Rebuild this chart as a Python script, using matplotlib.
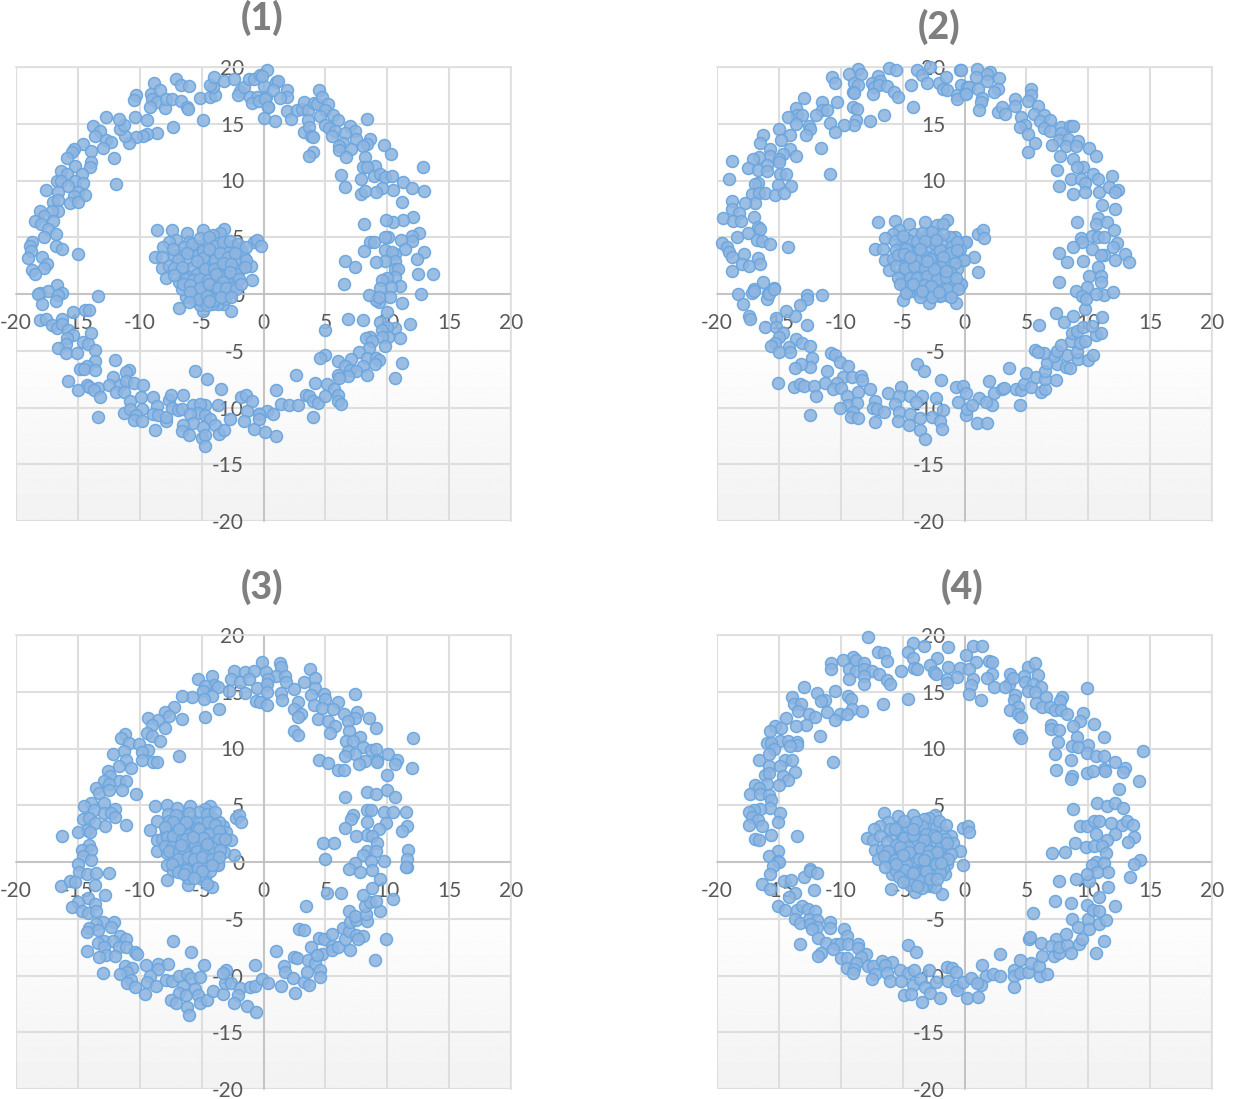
import numpy as np
import matplotlib
matplotlib.use("Agg")
import matplotlib.pyplot as plt

panel_titles = ["(1)", "(2)", "(3)", "(4)"]
tick_values = [-20, -15, -10, -5, 0, 5, 10, 15, 20]

p1_ring = [(-8.84,18.56),(-7.09,18.9),(-6.7,18.4),(-6.06,18.3),(-10.3,17.5),(-10.5,17.1),(-9.1,17.6),(-8.4,18),(-9,17.2),(-8.6,16.9),(-9.2,16.5),(-8,16.4),(-7.9,17.2),(-7.4,17.2),(-6.7,17),(-6.2,16.5),(-6.1,16.3),(-5.1,17.3),(-4.3,17.4),(-3.9,17.5),(-4.1,18.2),(-4.3,18.4),(-4,19.1),(-3.2,18.8),(-4.9,15.3),(-7.3,14.7),(-8.6,14.2),(-9.4,14.1),(-9.7,13.9),(-10.3,13.8),(-10.9,13.3),(-11.2,13.9),(-11.6,14.5),(-11.3,14.9),(-11.7,15.4),(-10.4,15.6),(-9.4,15.3),(-12.7,15.6),(-13.8,14.8),(-13.2,14.4),(-13.6,13.9),(-12.7,13.6),(-12.3,13.4),(-13,12.9),(-12.1,12),(-11.9,9.7),(-14.6,13.2),(-13.9,12.6),(-15.3,12.8),(-15.5,12.5),(-15.9,12),(-13.9,11.6),(-14,11.2),(-15.2,11.3),(-14.7,10.6),(-16.4,10.8),(-15.9,10.6),(-16.7,10),(-16.4,10),(-15.2,10),(-14.6,9.8),(-15.8,9.5),(-17.6,9.2),(-16.6,9),(-15,9),(-14.4,8.7),(-15.3,8.6),(-17,8.1),(-16.6,8.3),(-15.6,8),(-15,8.1),(-16.6,7.3),(-17.1,7.3),(-18.1,7.3),(-17.7,6.9),(-18.5,6.4),(-18,6.2),(-17,6.4),(-17.4,5.7),(-16.8,5.3),(-17.7,5),(-18.7,4.6),(-18.9,4.2),(-18.8,3.8),(-16.8,4.2),(-16.3,4),(-15,3.5),(-19,3.2),(-17.9,3.3),(-17.5,2.6),(-17.7,2.3),(-18.7,2.1),(-18.5,1.8),(-16.7,.8),(-16.3,.1),(-18.1,.1),(-17.4,.3),(-16.6,-.1),(-13.4,-.2),
(-2.4,18.9),(-1.9,17.9),(-2.1,17.5),(-1.6,18.2),(-1.2,18.9),(-.8,18.9),(-1.1,17.4),(-.5,17.4),(-.9,16.8),(-.3,19.3),(0,18.3),(.2,17.4),(-.4,17),(.4,16.5),(.3,19.7),(-.1,19.2),(1,18.7),(1.2,18.8),(1.9,18),(.8,18),(1.9,17.4),(1.3,17.3),(.1,17.2),(.4,16.5),(0,15.5),(.9,15.2),(1.9,16.1),(2.2,15.4),(2.7,16.2),(3.1,16.3),(3.3,16.9),(3.6,16.2),(4.1,16.8),(4.3,16.7),(4.5,18),(4.7,17.4),(5.2,16.7),(5,16.2),(4.6,15.7),(5.6,15.8),(6,15.3),(3.6,15.3),(3.3,14.3),(3.7,14.7),(3.8,13.9),(4,13.8),(5,14.9),(5.3,14.6),(5.8,14.4),(5.5,13.9),(7,14.8),(7.4,14.4),(6.6,14.2),(7.5,13.7),(8.4,15.4),(8.6,13.7),(8.4,13.2),(8,13),(6.4,13.3),(6.1,13),(6.1,12.7),(7.1,12.8),(6.7,12.1),(3.96,12.5),(3.7,12.2),(9.7,13.1),(10.3,12.3),(12.9,11.2),(8.2,12.1),(9,11.3),(8,11.2),(8.4,11.2),(6.3,10.5),(6.6,9.4),(8.9,10.4),(9.4,10.6),(9.8,10.3),(10.4,10.4),(7.9,10.1),(11.3,9.9),(12,9.3),(13,9.1),(10.5,9.2),(9.6,9.3),(9.1,9),(7.9,8.8),(8.2,9.1),(11.2,8.1),(12.1,6.8),(11.3,6.5),(10.5,6.3),(9.9,6.5),(8.1,6.2),(12.6,5.4),(12,5.1),(12,4.7),(11.1,4.8),(10.1,5),(9.8,5),(8.6,4.6),(8.9,4.6),(11.4,4),(9.8,3.9),(8.1,3.8),(13,3.7),(12.4,3.1),(10.6,3.5),(10.4,3.7),(10.6,2.9),(9.8,2.9),(9.1,2.8),(6.6,2.9),(7.4,2.4),(10.6,2.2),(10.9,2.2),(12.5,1.8),(13.7,1.8),(10.6,1.5),(10,1.4),(9.6,1.2),(6.5,.9),(11,.7),(10.3,.6),(9.4,.5),
(12.7,0),(11.2,-.8),(10.2,-.3),(9.3,-.7),(9.1,-.5),(8.5,-.1),(9.3,-.3),(10,-1.6),(11.8,-2.6),(9.4,-2.5),(8,-2.3),(6.8,-2.2),(10.6,-3),(10,-2.9),(9.6,-3.2),(5,-3.2),(11,-3.9),(10.1,-3.8),(9.6,-3.8),(8.6,-3.8),(8.3,-3.9),(8.8,-4.1),(9.8,-4.6),(8.5,-4.8),(7.7,-5.1),(5,-5.4),(4.6,-5.6),(7.1,-5.7),(6,-5.9),(8.4,-5.6),(9.1,-5.6),(9.3,-5.8),(9,-6.2),(8,-6.3),(6.6,-6.3),(7,-6.7),(7.5,-6.8),(11.2,-6.1),(10.6,-7.4),(8.4,-7.1),(6.8,-7.2),(6,-7.1),(6.1,-7.4),(2.6,-7.1),(4.2,-7.8),(5.1,-7.9),(5.7,-8.4),(1.05,-8.5),(3.4,-8.9),(3.7,-9),(4,-9.4),(4.4,-9.6),(5,-9),(6,-8.9),(6,-9.4),(6.3,-9.7),(1.4,-9.7),(2.1,-9.8),(2.8,-9.8),(4,-10.8),(.3,-10.3),(.8,-10.6),(.1,-12.2),(1,-12.5),(-.35,-10.6),
(-18.2,0),(-17.9,-.9),(-16.8,-.6),(-15.4,-1.6),(-14.4,-1.4),(-14.1,-1.4),(-18.1,-2.3),(-17.6,-2.2),(-16.3,-2.2),(-17.1,-2.7),(-16.7,-3),(-16.3,-2.6),(-15.8,-3.2),(-15.4,-3.6),(-15.9,-3.9),(-13.9,-3.4),(-16,-4.4),(-14.6,-4.2),(-14.2,-4.4),(-16.6,-4.8),(-16,-5.2),(-15.1,-5.2),(-13.6,-4.9),(-12,-5.8),(-13.6,-5.9),(-14.3,-6.3),(-14.8,-6.6),(-14.5,-6.6),(-13.6,-6.7),(-10.9,-6.7),(-11.1,-6.9),(-15.8,-7.7),(-14.3,-8),(-14.1,-8.2),(-15,-8.5),(-13.4,-8.3),(-13.7,-8.5),(-13.2,-9.1),(-12.2,-7.3),(-12.5,-8),(-11.6,-8),(-11.1,-7.7),(-10.5,-7.8),(-9.7,-8),(-11.9,-8.6),(-11.3,-8.6),(-13.4,-10.8),(-10.8,-9.4),(-9.9,-9.1),(-8.9,-9.1),(-11.3,-10.5),(-10.8,-10.1),(-9.8,-10.1),(-10.3,-10.7),(-10.5,-11.1),(-9.8,-11.2),(-8.8,-12),(-8.6,-9.9),(-8.9,-10.6),(-8.5,-10.7),(-7.9,-11.2),(-7.9,-10.8),(-7.6,-9.3),(-7.5,-8.9),(-7.4,-10),(-6.9,-10.2),(-6.5,-8.9),(-6.6,-10.1),(-5.7,-9.8),(-5.5,-6.8),(-4.6,-7.5),(-3.4,-8.4),(-3.7,-9.8),(-4.7,-9.8),(-5.1,-9.7),(-5.3,-10.5),(-5.9,-10.6),(-4.7,-10.7),(-4.3,-11),(-5.7,-11.4),(-4.9,-11.7),(-6.5,-11.5),(-6.6,-12.1),(-6,-12.4),(-5,-12.7),(-4.7,-12.4),(-4.7,-13.4),(-3.9,-11.5),(-3.6,-12.3),(-3.2,-12),(-2.7,-11),(-1.8,-9.1),(-1.4,-8.9),(-.9,-9.4),(-1.3,-10.3),(-1.6,-11.2),(-.8,-11.9),(-.4,-10.6),(-.4,-11)]
p1_cluster = [(-8.6,5.6),(-7.4,5.6),(-6.2,5.4),(-4.9,5.6),(-3.2,5.7),(-3.5,5.4),(-4.1,5.2),(-7.1,4.8),(-7.6,4.6),(-6,4.6),(-8.1,4.1),(-8.8,3.3),(-8.2,3.3),(-8.2,2.3),(-7.6,2.5),(-7.9,1.4),(-6.8,1.1),(-7.2,3.4),(-6.7,3.6),(-.75,4.6),(-.5,4.8),(-.2,4.2),(-1,2.5),(-.9,1.2),(-1.8,3.9),(-1.6,3.3),(-1.9,2.2),(-2.5,1.4),(-2.5,4.2),(-6.8,-1.2),(-4.85,-1.5),(-2.6,-1.5),(-3.3,-.85),(-3.7,-.85),(-6.3,-.3),(-5.2,-.1),(-4.4,.4),(-3.25,.2),(-5.3,4.2),(-4.6,4.6),(-3.7,4.5),(-3,3.9),(-5.7,3.7),(-5.3,3.4),(-4.6,3.3),(-4.1,3.7),(-3.4,3.1),(-2.7,3.2),(-2.1,2.7),(-6.2,2.9),(-5.7,2.4),(-5,2.6),(-4.3,2.5),(-3.7,2.2),(-3,2.4),(-2.4,2.2),(-6.5,1.9),(-6,1.5),(-5.4,1.8),(-4.8,1.6),(-4.2,1.7),(-3.6,1.4),(-3,1.6),(-5.4,.9),(-4.7,.8),(-4,1),(-3.4,.7),(-2.8,.9),(-6.1,.6),(-5.5,.3),(-4.9,.2),(-4.2,-.2),(-3.6,.1),(-2.9,.1),(-2.4,.6),(-5.5,-.5),(-4.8,-.7),(-4.2,-.9),(-5.1,-1),(-4.4,2),(-3.9,3),(-4.9,3.8),(-2.2,1.8),(-6.6,.4),(-5.8,-.2),(-3.1,-.4)]
p1_cluster_dense = [(-6.4,4.1),(-5.8,4.4),(-5.1,4.9),(-4.4,5),(-3.9,4.2),(-3.3,4.6),(-2.7,4.7),(-2.1,4.4),(-1.4,4.1),(-7.3,4),(-6.9,3),(-6.2,3.6),(-4.9,3.2),(-4.4,4),(-3.5,3.6),(-2.9,3.3),(-2.3,3.6),(-1.4,3),(-7.2,2.3),(-6.6,2.4),(-5.4,2.9),(-4.7,2.2),(-4,2.2),(-3.3,2.7),(-2.6,2.6),(-1.5,2.4),(-7.2,1.7),(-6.3,1.3),(-5.7,1.2),(-5.1,1.3),(-4.5,1.2),(-3.8,1.8),(-3.3,1.1),(-2.7,1.9),(-2,1.3),(-6.5,.9),(-5.9,.8),(-5.1,.5),(-4.4,.9),(-3.7,.5),(-3,.5),(-2.2,.4),(-1.8,.9),(-5.9,.2),(-5.2,-.4),(-4.6,-.2),(-4,-.5),(-3.4,-.3),(-2.6,-.3),(-4.6,-1),(-4.4,-.6),(-6,-.7)]

p2_ring = [(-8.6,19.8),(-9.3,19.4),(-8.4,19.4),(-10.7,19.1),(-10.5,18.6),(-8.9,18.6),(-8.6,18.4),(-9,17.8),(-8.9,17.7),(-6.1,19.9),(-5.5,19.7),(-7,19.2),(-7.5,18.6),(-6.8,18.8),(-7.3,18.2),(-6.9,18.4),(-6.3,18.3),(-7.4,17.6),(-5.7,17.8),(-5.4,17.4),(-4.3,18.4),(-3.8,19.7),(-3.4,19.3),(-3,18.6),(-2.8,20),(-2.1,18.6),(-1.5,19.1),(-1.7,18.1),(-1.4,18),(-.4,19.7),(-.3,18.4),(.2,18.2),(-.6,17.5),(0,17.7),(-.6,17.2),(-4.2,16.5),(-10.3,16.9),(-13,17.3),(-11.5,16.9),(-11.5,16.2),(-11.1,16.2),(-12,15.8),(-9,16.5),(-8.7,16.3),(-6.5,15.8),(-7.6,15.2),(-8.8,15.3),(-8.9,14.9),(-9.7,14.9),(-10.9,15.1),(-10.5,14.3),(-13.6,16.4),(-13.5,15.8),(-13.1,15.8),(-14.3,15.6),(-13.6,15),(-12.6,14.8),(-12.5,14.5),(-12.8,14),(-15,14.5),(-14.1,14),(-14.8,13.6),(-16.3,14),(-16.5,13.3),(-15.7,12.8),(-14.1,12.8),(-11.6,12.9),(-15.7,12.2),(-14.7,12.3),(-13.6,12.2),(-16.6,12.1),(-17.1,11.9),(-15,11.9),(-18.8,11.7),(-15,11.6),(-16,11.4),(-17.5,11.1),(-16.7,10.9),(-16,10.8),(-14.9,10.6),(-14.4,10.6),(-10.9,10.6),(-19,10.1),(-16.7,9.8),(-16.9,9.7),(-15.1,9.6),(-14,9.5),(-17.2,8.8),(-16.6,8.9),(-16.1,8.9),(-15.3,8.7),(-14.6,8.9),(-16.9,8),(-17.7,8),(-18.8,8.2),(-18.8,7.5),(-18.2,7.1),(-19.5,6.7),(-18.7,6.4),(-18.1,6.4),(-17,6.8),(-16.7,5.9),(-16.5,5.7),(-17.5,5.4),(-18.4,5),(-16.8,4.8),(-16.4,4.7),(-15.7,4.4),(-14.3,4.1),(-19.6,4.5),(-19.2,4.1),(-19,3.7),(-18.8,3.3),(-17.8,3.5),(-16.7,3.2),(-18,2.6),(-17.4,2.5),(-16.5,2.6),(-18.8,2),(-16.3,1.1),(-15.4,.5),(-17,.4),(-17.2,.06),(-15.9,.06),(-12.7,-.1),
(1,19.8),(-.3,19.7),(2.1,19.6),(1.8,19.4),(2.8,19),(.9,19.1),(1.8,18.8),(.35,18.2),(1.1,18.1),(2.7,18.1),(2.4,17.8),(.1,17.6),(1.4,17.3),(1.3,16.9),(1.2,16.2),(2.7,16),(3,16.5),(3.3,15.9),(4.1,17.2),(4.1,16.6),(5.4,18.1),(5.4,17.5),(5.1,17),(5.9,16.6),(4.6,15.6),(5.6,15.9),(6.4,15.8),(4.9,14.9),(4.5,14.7),(5.1,14.1),(5.7,13.3),(5.1,12.5),(6.1,15.2),(6.9,15.3),(6.4,14.6),(6.9,14.4),(7.8,14.7),(8.5,14.8),(8.8,14.8),(7.8,14.2),(7.6,13.6),(8.4,13.7),(9.2,13.5),(7.1,13.1),(8.2,13),(9,13),(10.1,12.9),(10.6,12.2),(7.7,12.2),(8.8,11.9),(9.6,11.2),(9.1,11.2),(7.5,10.9),(10.4,10.6),(11.9,10.4),(8.6,10.1),(9.4,10.1),(10.8,10.1),(9.7,9.8),(7.6,9.5),(8.8,8.8),(9.7,9),(10.9,9),(11.7,9.4),(12.4,9.2),(12.2,9),(11.1,7.8),(12.2,7.5),(10.8,6.7),(10.6,6.2),(9.1,6.3),(11.5,6.3),(12.1,5.6),(10.3,5.1),(10.8,5),(11.3,5),(9.4,4.9),(9.5,4.6),(8.8,4.1),(12.3,4.5),(12,4.1),(10.3,4),(7.6,3.6),(11.3,3.4),(11,3.4),(13,3.5),(12.2,3),(13.3,2.8),(8.3,2.8),(9.6,2.9),(10.8,2.4),(10.1,1.6),(11,1.6),(11,1.1),(7.6,1.1),(9.9,.6),(9,.3),
(-18.3,0),(-17.9,-.9),(-17,.3),(-16,-.4),(-15.8,0),(-15.4,.4),(-11.5,-.06),(-12.7,-.4),(-13.3,-1),(-13.7,-1.9),(-14.4,-1.5),(-17.4,-1.9),(-17.3,-2.2),(-16.1,-2.9),(-15.2,-2.1),(-15.2,-2.9),(-12.7,-2.7),(-14.7,-3.4),(-15,-3.8),(-13.6,-4),(-13.1,-4.3),(-12.5,-4.6),(-14.2,-4.7),(-14.1,-5.1),(-15.3,-4.3),(-15.6,-4.6),(-15,-5.1),(-10.8,-5.2),(-10.5,-5.4),(-12.3,-5.6),(-10.1,-6),(-9.4,-6.3),(-12.5,-6.4),(-13.2,-6.2),(-13.7,-6.5),(-11.1,-6.8),(-11.3,-7.8),(-9.8,-7.3),(-9.1,-7.3),(-8.4,-7.2),(-8.3,-7.6),(-10.3,-7.8),(-15.1,-7.8),(-13.8,-8.2),(-13.3,-7.9),(-13,-8.1),(-12.2,-8.1),(-12,-9),(-10.6,-8.4),(-10,-8.3),(-8.6,-8.6),(-7.6,-8.4),(-9.5,-9),(-7.2,-9.4),(-6.2,-8.7),(-5.1,-8.2),(-5.3,-9),(-4.4,-9),(-3.4,-9),(-2.3,-9.2),(-1.9,-7.6),(-3.8,-6.2),(-3.3,-6.8),(-.7,-8.2),(-.1,-8.1),(.1,-8.7),(-5.6,-9.7),(-3.9,-9.5),(-.5,-9.5),(-9.4,-9.8),(-8.7,-9.6),(-10.1,-10),(-9,-10.4),(-9.2,-10.8),(-8.6,-10.9),(-12.5,-10.7),(-7.2,-11.3),(-7.4,-10),(-7.1,-10.1),(-6.5,-10.4),(-5.3,-10.4),(-4.4,-10.6),(-3.6,-10.9),(-2.6,-10.8),(-1.7,-10.2),(-2,-11.2),(-1.8,-11.9),(-5.4,-11.2),(-4.5,-11.5),(-3.6,-12),(-3.2,-12.8),(.1,-10.7),(.2,-10.1),
(2,-7.7),(3.6,-6.5),(2.4,-8.7),(3,-8.4),(3.2,-8.3),(1.2,-9.2),(.6,-9.8),(2.2,-9.8),(1.7,-9.5),(1,-11.4),(1.8,-11.4),(4.5,-9.8),(4.2,-8.4),(4.6,-8.5),(4.8,-7.9),(5,-7),(5.4,-8.2),(5.8,-7.3),(6.2,-8.6),(6.5,-8.4),(6.5,-7.5),(6.5,-6.8),(6.7,-6.1),(7.4,-7.6),(7.5,-6.2),(8.2,-6.4),(8.5,-6.5),(9.2,-5.7),(10,-5.8),(10.4,-5.4),(8.3,-5.4),(9.1,-5.1),(7.2,-5.5),(6.4,-5.2),(5.7,-4.9),(5.9,-5.1),(7.5,-5),(7.8,-4.5),(8.6,-4.1),(9.3,-4.3),(9.7,-4.1),(8.7,-3.4),(9.1,-3.3),(10.6,-3.6),(11,-3.4),(9.6,-2.9),(10.3,-2.8),(6,-2.7),(7.4,-1.7),(8,-2.5),(8.8,-1.9),(9.7,-1.3),(11.1,-2),(11.3,-.1),(12,.2),(9.5,-.15),(9.8,-.4),(10.6,0)]
p2_cluster = [(-7,6.3),(-5.6,6.4),(-4.5,6.2),(-3.2,6.3),(-2.2,6.1),(-1.4,6.5),(-1.7,6.2),(-5.3,5.6),(-5.8,5.3),(-6.4,4.9),(-4.1,5.3),(-7.2,4),(-6.6,4),(-5.1,4.3),(-4.9,4.3),(-3.5,4.3),(-2.9,4),(-1.5,3.9),(-.8,5),(0,4.6),(-6.4,3),(-5.8,3.1),(-4.1,3.8),(-6.1,2.1),(-5.1,1.8),(-4.4,2.6),(-3.4,2.7),(-2.6,2.7),(-2,3.1),(-.5,3.4),(-.1,3),(-.6,2.2),(-1.4,2.3),(-3.6,1.7),(-2.6,1.8),(-2.6,1.2),(-4.9,.8),(-3.6,.8),(-1.4,.9),(-.4,.9),(1.1,5.3),(1.5,5.6),(1.6,4.9),(.1,4.6),(.8,3.3),(1.1,1.9),(-.05,3),(-.3,.9),(-5,-.5),(-2.9,-.8),(-.7,-.8),(-4.4,.3),(-3,0),(-1.5,-.1),(-3,5.2),(-2.2,5),(-1.2,5),(-4.6,4.8),(-3.8,4.7),(-2.4,4.4),(-1.9,4.5),(-1,4.2),(-.4,4),(-4.4,3.7),(-3.7,3.5),(-3.1,3.3),(-2.3,3.5),(-1.1,3),(-5.1,3),(-4.6,3.1),(-1.6,2.8),(-2.9,2.2),(-2.2,2.1),(-3.9,2.1),(-4.5,1.9),(-1.9,1.5),(-1,1.6),(-3.2,1.2),(-4.1,1.2),(-1.9,.7),(-3,.5),(-4.1,.3),(-2.4,.3),(-1,.2),(-3.6,.1),(-2,-.2)]
p2_cluster_dense = [(-5.6,4.7),(-5,5.1),(-3.4,5.4),(-2.6,5.5),(-1.7,5.3),(-.6,4.6),(-5.5,3.9),(-4.7,4),(-3.2,4.7),(-2,3.9),(-1.2,3.6),(-.6,3.9),(-5.4,3.4),(-4.9,3.5),(-3.9,3),(-2.8,3.1),(-1.7,3.3),(-.8,2.7),(-5.5,2.5),(-4.8,2.3),(-4.1,2.5),(-3.2,2.3),(-1.9,2.4),(-1.2,1.9),(-5.4,1.4),(-4.4,1.4),(-3.8,1.4),(-3,1.6),(-2.2,1.3),(-1.5,1.5),(-.7,1.4),(-5.2,.9),(-4.3,.8),(-3.3,.8),(-2.7,.7),(-1.4,.4),(-.5,.4),(-4.7,.1),(-3.6,-.3),(-2.6,-.3),(-2.1,.2),(-1.1,-.3),(-2.3,4.8),(-3.6,4),(-2.5,2.2),(-4.2,.9),(-3,2.9),(-1.5,2),(-4.4,3.3),(-3.4,.3)]

p3_ring = [(-.1,17.6),(1.3,17.5),(1.45,17.2),(3.75,17),(-2.4,16.8),(-1.5,16.7),(-.75,16.8),(-4.2,16.4),(-5.3,16.1),(.2,16.7),(1,16.4),(1.75,16.4),(-2.6,16.1),(-1.9,15.9),(-1.2,16.1),(.4,16.1),(1.8,15.9),(3.3,15.9),(4.2,16.2),(-4,15.6),(-3.7,15.4),(-4.7,15.5),(-2.8,15.1),(-.5,15.3),(.3,15.7),(.3,15),(-1.5,14.9),(2.5,15.2),(1.4,14.9),(4.2,15.3),(7.4,14.8),(-4.85,15.1),(-4.2,14.6),(-4.8,14.4),(-5.8,14.5),(-6.55,14.6),(-.6,14.2),(-.3,14.1),(.25,13.8),(1.5,14.3),(2.75,14.1),(2.5,13.5),(3.8,14.7),(4.1,13.8),(4.9,14.8),(5,14.4),(4.7,13.6),(6,14.1),(5.6,13.5),(6.5,13),(7.55,13.2),(7.4,12.7),(8.55,12.7),(6.8,12.4),(-3.6,13.5),(-4.7,12.8),(-7.2,13.7),(-8,13.2),(-7.6,12.9),(-6.55,12.6),(-9.3,12.7),(-8.5,12.5),(-9,12.1),(-8,11.8),(3,13),(2.75,12.8),(4.4,12.6),(5.2,12.4),(5.8,12),(5.4,11.4),(2.5,11.5),(2.8,11.2),(9.1,11.8),(6.9,11.5),(7.8,11),(6.7,10.7),(7.2,10.7),(12.1,10.9),(-9.4,11.4),(-9,11.1),(-8.4,10.7),(-11.2,11.3),(-11.5,10.9),(-10.9,10.5),(-10.1,10.4),(-9.3,9.9),(-9.8,9.7),(8,10.1),(8.7,9.9),(9.1,10),(6.8,9.8),(-11.3,9.8),(-12.2,9.5),(7.4,9.5),(6.6,9.3),(10.1,9.5),(9.2,9),(10.8,9),(8.2,8.9),(-6.8,9.3),(-9.8,9),(-8.9,8.8),(-8.6,8.8),(-11.1,9),(4.5,9),(5.2,8.7),(9.2,8.8),(7.7,8.6),(10.6,8.6),(12,8.3),(-10.7,8.3),(-11.7,8.5),(-12.6,8),(6,8.1),(6.5,8.1),(10,7.7),(-12.4,7.6),(-12.9,7.1),(-11.7,7.1),(-11.1,7.1),(-12.5,6.9),(-13.5,6.5),(-13.3,6.1),(-12.5,6.3),(-11.4,6.3),(-10.3,6),(10,6.3),(8.4,6.2),(9.1,6),(6.6,5.7),(10.6,5.7),(-13.9,5.2),(-12.9,5.2),(-14.5,4.9),(-12,4.7),(-13.7,4.6),(-12.9,4.3),(-12.3,4.3),(-12,4),(-14.6,3.8),(-14.1,3.9),(-13.6,3.4),(-12.8,3.2),(-11.1,3.3),(-14.3,2.8),(-14,2.6),(-15,2.6),(-16.3,2.3),(8.4,4.6),(8.7,4.6),(9.7,4.4),(10.5,4.4),(11.5,4.4),(7.2,4.1),(7.1,3.8),(8.4,3.5),(9.9,3.4),(11.6,3.2),(6.6,3),(9.35,2.9),(11.2,2.7),(8.4,2.4),(8.8,2.3),(7.5,2.3),(9.2,1.7),(4.8,1.7),(5.7,1.7),(11.7,1.1),(8.4,1),(9.1,1),(8,.6),(11.6,.3),(5,.3),(8.7,.1),(9.7,.1),(7.4,-.1),(11.6,-.4),(-14.1,1.5),(-14.7,1.1),(-13.9,1.1),(-14.6,.5),(-13.9,.2),(-15,-.15),
(-14.9,-.9),(-14.3,-1.1),(-13.5,-1),(-12.5,-1),(-16.4,-2.1),(-15.6,-1.7),(-15.2,-1.8),(-13.6,-2),(-12.8,-2.9),(-14.2,-3.2),(-15,-3.5),(-13.6,-3.7),(-15.5,-4),(-14.7,-4.3),(-14.2,-4.5),(-13.5,-4.3),(-12.1,-5.3),(-13,-5.3),(-13.5,-5.5),(-12.3,-5.7),(-14.1,-5.8),(-13.4,-6),(-14.3,-6.2),(-11.6,-6.5),(-11.1,-6.8),(-12.9,-7),(-13.4,-7.1),(-12.2,-7),(-12.9,-7.5),(-11.7,-7.5),(-11.1,-7.5),(-14.3,-7.8),(-10.4,-7.9),(-12.7,-8.2),(-13.3,-8.4),(-12,-8.3),(-10.2,-8.1),(-13,-9.8),(-11.2,-9.2),(-10.6,-9.3),(-9.5,-9.1),(-8.5,-9),(-7.7,-9),(-8.5,-9.4),(-11,-9.7),(-11.6,-9.9),(-9.2,-10),(-10.7,-10.4),(-11,-10.7),(-10.4,-11),(-9.6,-11.6),(-9.45,-10.6),(-8.7,-10.9),(-7.9,-10.4),(-7.4,-10.5),(-6.8,-10),(-6.2,-9.9),(-5.85,-10.2),(-5.1,-10.1),(-4.8,-9.1),(-5.85,-7.9),(-7.3,-7),(-6.5,-10.9),(-6.8,-11.5),(-6.25,-11.7),(-5.5,-11.2),(-5.3,-11.7),(-7.5,-12.2),(-7.1,-12.4),(-5.1,-12.4),(-4.55,-12.2),(-6.2,-12.8),(-6,-13.5),(-4.1,-11.4),(-3.3,-11.6),(-3.1,-10.7),(-2.6,-10.7),(-3,-9.5),(-3.3,-9.8),(-1.9,-11.1),(-1.1,-11),(-.7,-10.9),(-2.1,-11.7),(-2.35,-12.4),(-1.3,-12.7),(-.6,-13.2),(-.7,-9.1),(-.1,-10.3),(.4,-10.7),(1.4,-10.9),(1.05,-7.8),(1.65,-9.2),(1.7,-9.7),(2.4,-10.2),(2.55,-11.5),(2.5,-8.4),(2.7,-8.5),(2.85,-5.9),(3.3,-6),(3.4,-3.9),(3.3,-10.6),(3.7,-10.8),(3.5,-9.7),(3.6,-8.6),(3.85,-7.5),(4.2,-8.9),(4.6,-9.5),(4.6,-10.1),(4.7,-8.1),(4.3,-8.2),(4.5,-6.7),(4.9,-6.8),(5.5,-6.3),(5.5,-7.4),(5.5,-7.75),(6,-7.5),(6.4,-5.8),(6.55,-6.8),(7,-7.75),(6.9,-6.1),(7.5,-6.4),(8,-6.5),(7.6,-6.8),(7,-5.3),(7.5,-5.1),(8.4,-5.2),(9,-8.6),(9.9,-6.8),(6.9,-4.3),(7.4,-4.8),(8.25,-4.6),(9.4,-4.3),(8.2,-3.9),(8.6,-3.5),(9.1,-3.4),(10.5,-3.3),(8,-2.9),(6.3,-2.7),(5.1,-2.7),(8.8,-2.3),(9.4,-1.5),(8.8,-.7),(6.9,-.65),(7.8,-.9),(11.5,-.4)]
p3_cluster = [(-8.8,4.9),(-7.8,5),(-7,4.8),(-5.9,4.9),(-4.3,4.9),(-4.7,4.7),(-7.7,4.2),(-8.6,3.6),(-9.2,2.8),(-7.4,3),(-6.2,2.9),(-4.8,3.6),(-3.3,3.2),(-3,2.6),(-8.6,1.9),(-2.6,1.9),(-8.6,1),(-3.4,1.6),(-6.4,1.4),(-7.8,.8),(-4,.8),(-5.8,0),(-2.4,.6),(-2.2,3.9),(-1.95,4.1),(-1.8,3.5),(-4.8,2.5),(-7,2.5),(-3.85,2.9),(-5.5,2.6),(-8.2,2),(-4.7,1.4),(-7.1,1.1),(-5.7,.8),(-6.5,.4),(-3.7,-.2),(-7.8,-.3),(-7.3,-.8),(-7.8,-1.6),(-6.1,-2),(-6.1,-1.4),(-4.2,-2.2),(-5,-1.5),(-4.7,-1.4),(-4.6,-.35),(-3.7,-.3),(-5.85,-.35),(-6.65,-.5),(-5.2,4.4),(-6.5,4),(-5.7,3.6),(-5.2,3.4),(-6.8,3.5),(-4.2,3.9),(-3.6,3.5),(-7.9,2.6),(-6.5,2.3),(-4.2,2.2),(-3.4,2.4),(-7.5,1.7),(-6.9,1.8),(-5.9,1.9),(-5.1,1.9),(-3.9,1.5),(-6.1,1),(-5,.9),(-4.4,.7),(-3.2,.9),(-7.2,.3),(-6.3,-.1),(-5.2,.2),(-4.5,0),(-7,-.4),(-5.6,-.9),(-4.3,-.8),(-5.4,3),(-4.5,3.1),(-7.6,3.6)]
p3_cluster_dense = [(-7.1,4.1),(-6,4.3),(-4.6,4.2),(-3.9,4.4),(-7.3,3.5),(-6.3,3.5),(-4.5,3.5),(-3.9,3.3),(-8,3.1),(-7.8,2.2),(-7.3,2.3),(-6.8,2.9),(-6,2.4),(-5.2,2.9),(-4.4,2.5),(-3.6,2.7),(-8,1.4),(-7.4,1.3),(-6.6,1.9),(-6.3,2),(-5.5,1.6),(-4.9,2.1),(-4.2,1.7),(-3.6,2),(-3.1,2),(-7.6,1),(-6.8,.9),(-6.4,.9),(-5.4,1),(-4.7,.8),(-4.1,1.2),(-3.5,1.1),(-6.9,.3),(-6.1,.4),(-5.6,.3),(-5,.4),(-4.2,.3),(-3.6,.4),(-7.4,-.2),(-6.9,-.9),(-6.3,-.7),(-5.3,-.5),(-5,-.8),(-4.2,-.3),(-6.4,-1.1),(-5.6,-1.4),(-4.6,-1.9),(-6.7,1.5),(-5.7,2.2),(-4.6,1.6)]

p4_ring = [(-7.8,19.8),(-4.2,19.3),(-3.3,19),(-1.3,18.9),(.7,19),(1.4,19),(-7,18.5),(-6.5,18.4),(-4.6,18.5),(-4.2,18),(-2.2,18),(.1,18.2),(-9,18.1),(-8.8,17.8),(-9.8,17.8),(-6.25,17.7),(-10.8,17.5),(-10.8,17),(-8.1,17.5),(2,17.7),(2.2,17.6),(.9,17.6),(-2.8,17.4),(-1.3,17.2),(-.4,17.1),(.35,17),(5.15,17.2),(5.7,17.5),(-9.3,17),(-8.8,16.8),(-8.1,17),(-7.5,16.8),(-6.9,16.6),(-8.1,16.4),(-5.1,16.8),(-4.1,17.1),(-3.8,17),(-2.5,16.7),(-2.3,16.6),(2.2,16.6),(3.7,16.6),(4.8,16.4),(5.9,16.5),(-9.35,16.1),(-6.25,16),(-6,15.7),(-8.1,15.7),(-1.4,16.1),(-1.4,15.8),(-.6,16.3),(.7,16.1),(1.8,16.2),(3.6,15.7),(2.4,15.4),(3.3,15.4),(3.9,16.2),(4.85,15.9),(5.5,15.7),(6.2,15.4),(-13,15.4),(-10.5,15.1),(9.9,15.3),(.5,15.6),(5.15,15.1),(5.7,15),(4.1,14.7),(.4,14.8),(1.35,14.3),(-4.6,14.4),(-6.6,13.9),(-11.9,14.9),(-13.9,14.5),(-9.4,14.6),(-9.2,14.4),(-11.3,14.3),(-11.6,14.2),(-13.8,13.9),(-13.2,13.9),(4,14.3),(6.6,14.5),(7.9,14.5),(7.7,14.2),(5.8,14),(6.3,13.7),(6.9,13.7),(7.3,13.4),(7.8,13.4),(8.3,13),(4.3,13.7),(3.7,13.4),(-13.45,13.3),(-11.1,13.2),(-9.1,13.5),(-8.3,13.3),(-10.1,13),(-9.5,13),(-12.6,13),(-12.1,12.8),(-14.4,12.7),(-10.5,12.5),(4.3,13),(4.6,12.8),(9.6,13.1),(9.3,12.4),(8.8,12),(10.5,12.2),(-12.8,12.1),(-13.6,12),(-15.3,12),(-14.8,11.8),(7,12.1),(7,11.7),(7.6,11.6),(-15.7,11.5),(-11.7,11.1),(-14.9,10.7),(-14.3,10.7),(4.4,11.2),(4.6,10.9),(9.1,11),(11.3,11),(7.55,10.6),(-13.5,10.6),(-16,10.5),(-15.6,10.5),(-13.5,10.3),(-14.1,10.2),(-15.4,10),(8.7,10.2),(10,10.3),(9.2,10.1),(-15.8,9.5),(9.9,9.6),(14.4,9.8),(7.3,9.5),(10.6,9.3),(11.3,9.3),(-16.6,9),(-14.5,9),(-13.9,9),(-10.6,8.8),(8.6,9),(12.2,8.8),(-15.8,8.5),(-14.9,8.5),(13,8.3),(11.3,8.2),(7.4,8.1),(-13.7,7.9),(11.35,8),(12.8,7.9),(9.9,7.8),(10.4,8),(-16.1,7.7),(-15.8,7.8),(8.7,7.6),(8.6,7.3),(-14.7,7.6),(-14.3,7.2),(14.1,7.1),(-16.9,6.8),(-15,6.8),(-16,6.9),(-16.6,6.5),(12.5,6.4),(-17.3,6),(-16.5,6),(-15.8,5.9),(-15.6,5.5),(10.7,5.2),(11.5,4.9),(12.2,5.2),(12.8,4.8),(-15.7,4.8),(-16.5,4.7),(-17,4.6),(-17.4,4.4),(8.8,4.7),(-14.9,4.3),(-17.2,4),(-15.1,3.5),(-16.7,3.7),(-17.4,3.3),(-16.4,3.2),(9.3,3.2),(9.9,3.2),(10.5,3.6),(10.9,3.6),(11.8,3.4),(12.7,3.3),(13.1,3.6),(13.6,3.3),(10.6,2.5),(12.2,2.5),(-15.6,2.4),(-13.5,2.3),(-16.9,2),(-16.6,1.9),(13.7,2.2),(13.2,1.8),(11.5,1.9),(8.9,1.7),(9.8,1.3),(10.5,1.4),(11.1,1.4),(8.1,.9),(7.1,.8),(11.4,.8),(-15.1,1),(-15.8,.5),(-15.1,.1),(14.2,.15),(13.7,-.2),(10.6,.03),(11.3,-.05),(10.3,-.3),(-12.5,-.6),
(-15,0),(-15.5,-.35),(-15.7,-1.1),(-16.4,-1.9),(-15.7,-2.35),(-14.6,-1.7),(-14,-1.6),(-13,-1.3),(-12.45,-.8),(-11.9,-1),(-13.7,-2.7),(-14.2,-3.1),(-12.2,-2.5),(-15.1,-3.9),(-14.5,-4.2),(-13.5,-4.2),(-13.1,-3.9),(-12.65,-4.1),(-12.1,-4.3),(-13.7,-5),(-13.3,-5.4),(-12.6,-5),(-11.9,-5.1),(-12.45,-5.5),(-11.9,-5.7),(-12.3,-5.9),(-10.9,-5.3),(-10.9,-5.8),(-9.75,-5.9),(-9.5,-6.5),(-11.8,-6.7),(-11.2,-7.1),(-13.3,-7.2),(-10.4,-7.2),(-10.1,-7.2),(-9.4,-7.2),(-10.6,-7.7),(-8.6,-7.2),(-8.6,-7.6),(-11.6,-8),(-11.8,-8.3),(-8,-8.1),(-10,-8.5),(-9.5,-8.5),(-8.4,-8.4),(-8.8,-8.9),(-9.5,-9.3),(-8.9,-9.4),(-9,-9.8),(-7.8,-9.2),(-7.4,-9.2),(-6.7,-8.7),(-5.85,-8.8),(-6.4,-9.1),(-7.2,-9.9),(-7.5,-10.3),(-6.25,-9.8),(-6,-10.5),(-5.2,-9.5),(-4.6,-9.8),(-4.1,-9.5),(-2.9,-9.5),(-4.6,-7.3),(-3.9,-7.9),(-5.1,-10.5),(-4.2,-10.8),(-3.6,-10.3),(-2.3,-10.6),(-3.2,-11),(-4.9,-11.7),(-4.3,-11.6),(-2.75,-11.5),(-3.4,-12.3),(-2,-12),(-1.4,-9.25),(-1,-9.3),(-.65,-9.7),(-1.3,-10.5),(-.7,-10.9),(-.6,-11.3),(-.1,-10.6),(.55,-10.2),(1.4,-9.1),(1.7,-10),(2.3,-9.9),(2.85,-10),(2.9,-8.1),(1.35,-10.8),(1,-10.7),(.2,-12),(1.1,-11.9),(4,-9.5),(4,-10),(4,-11),(4.45,-8.6),(4.5,-9.75),(5.1,-9.7),(5.4,-8.9),(6.1,-10),(6.7,-9.9),(6,-9.2),(6.3,-8.3),(5.2,-6.75),(5.3,-6.6),(6.2,-7.1),(5.5,-4.5),(7.4,-6.75),(6.95,-7.4),(7.2,-8.3),(7.6,-8),(7.6,-7.5),(8.3,-7.3),(8.6,-8),(8.2,-6.3),(9.25,-7.25),(9.5,-6.8),(10.6,-8),(11.3,-7),(8.7,-5),(9.2,-5.7),(10,-5),(10.05,-5.9),(10.9,-5.5),(11.45,-5.1),(9.9,-3.8),(10.4,-4.2),(10.9,-4.3),(12.15,-3.9),(10.9,-3.1),(7.35,-3.4),(8.6,-3.6),(7.6,-1.7),(9,-1.5),(10.05,-1.7),(11.6,-2.2),(11.6,-.85),(10.7,-.9),(9.9,-1.1),(13.4,-1.3)]
p4_cluster = [(-6.5,4.3),(-5.4,4.05),(-4.2,4.1),(-2.4,4.1),(-2.9,3.9),(-6.2,3.5),(-6.8,3.2),(-7.3,2.9),(-5.2,3.2),(-3.3,3.8),(-2.9,2.9),(-1.8,2.7),(-.1,3),(.3,3.2),(.4,2.6),(-7.9,2.1),(-7.4,1.9),(-5.85,2.3),(-4.5,2.1),(-3.6,2),(-2.6,1.7),(-1.1,2.3),(-.9,1.7),(-7.2,1.1),(-6.65,1.1),(-5.2,1.7),(-.4,1),(-1.6,1.3),(-5.7,.8),(-4.4,.5),(-7,.3),(-6,-.05),(-1.1,.7),(-2.5,.2),(-3.8,.7),(-3,0),(-5.9,-.1),(-5.85,-1.1),(-5.9,-2.35),(-4,-2.6),(-1.8,-2.85),(-2.75,-2.1),(-2.4,-2.2),(-1.55,-1.1),(-3.6,-.8),(-4.9,-1.2),(-4.4,-2),(-.1,-.3),(-2.5,-1.1),(-4.4,-.35),(-3.15,-.2),(-5.2,2.6),(-4.6,3.1),(-3.9,2.9),(-3.4,3.2),(-2.3,3.1),(-4.9,2.1),(-4.1,1.5),(-3.1,1.4),(-2,1.2),(-5.1,1),(-4.6,1.3),(-3.4,.9),(-2.7,.6),(-1.9,.4),(-5,.2),(-4.1,-.1),(-2.1,-.4),(-5.3,-.6),(-3.3,-1.3),(-4,-1.5),(-3.1,-2),(-6.3,.5),(-1.4,-.2)]
p4_cluster_dense = [(-4.9,3.6),(-3.9,3.5),(-2.1,3.6),(-1.5,3.3),(-6,2.9),(-5.6,2.9),(-3.1,2.5),(-2.5,2.4),(-1.6,2),(-6.8,2.3),(-6.3,1.8),(-5.5,1.5),(-4.2,2.4),(-3.3,1.9),(-2.3,2.2),(-1.4,1.7),(-6.2,1),(-5.2,1.3),(-4.5,.9),(-3.6,1.2),(-2.9,1),(-2.2,.9),(-1.3,.3),(-6.5,.5),(-5.6,.2),(-4.7,-.2),(-3.7,.3),(-3,.5),(-2.3,-.2),(-1.7,-.5),(-6.4,-.4),(-5.5,-.8),(-4.8,-.7),(-4,-.9),(-3.1,-.8),(-2,-1),(-5.3,-1.3),(-4.5,-1.6),(-3.6,-1.7),(-2.8,-1.5),(-2.2,-1.5),(-5,-1.8),(-3.4,-2.3),(-3.8,-2.1),(-4.2,-1),(-3.3,.2),(-5.5,-.2),(-4.2,2.9),(-5,.6),(-1.9,-.1)]

panels = [(p1_ring, p1_cluster + p1_cluster_dense), (p2_ring, p2_cluster + p2_cluster_dense),
          (p3_ring, p3_cluster + p3_cluster_dense), (p4_ring, p4_cluster + p4_cluster_dense)]
W, H = 1234, 1099
boxes = [(16, 67), (717, 67), (16, 635), (717, 635)]
title_pos = [(262, 18), (939, 27), (262, 587), (962, 587)]
AW, AH = 495, 454
LABEL = "#595959"

fig = plt.figure(figsize=(W / 100, H / 100), dpi=100, facecolor="white")
plt.rcParams["font.family"] = ["Lato", "DejaVu Sans"]

for (ring, cluster), (bx, by), title, (tx, ty) in zip(panels, boxes, panel_titles, title_pos):
    ax = fig.add_axes([bx / W, 1 - (by + AH) / H, AW / W, AH / H])
    pts = np.array(list(ring) + list(cluster))
    grad = np.clip((np.linspace(20, -20, 200) + 3) / -17, 0, 1)[:, None]
    ax.imshow(1 - 0.05 * grad, cmap="gray", vmin=0, vmax=1, extent=(-20, 20, -20, 20),
              aspect="auto", zorder=0, interpolation="bilinear")
    ax.set_xlim(-20, 20)
    ax.set_ylim(-20, 20)
    ax.set_xticks(tick_values)
    ax.set_yticks(tick_values)
    ax.set_xticklabels([str(v) for v in tick_values])
    ax.set_yticklabels([str(v) for v in tick_values])
    ax.grid(True, color="#DEDEDE", lw=1.5)
    ax.set_axisbelow(True)
    for name in ("top", "right"):
        ax.spines[name].set_color("#DEDEDE")
        ax.spines[name].set_linewidth(1.2)
    for name in ("left", "bottom"):
        ax.spines[name].set_position("zero")
        ax.spines[name].set_color("#BFBFBF")
        ax.spines[name].set_linewidth(1.2)
        ax.spines[name].set_zorder(0.6)
    ax.add_patch(plt.Rectangle((-20, -20), 40, 40, fill=False, ec="#DEDEDE", lw=1.5, zorder=0.4))
    ax.tick_params(axis="x", length=0, pad=14, labelsize=15, labelcolor=LABEL)
    ax.tick_params(axis="y", length=0, pad=14, labelsize=15, labelcolor=LABEL)
    ax.scatter(pts[:, 0], pts[:, 1], s=74, facecolor=(0.56, 0.71, 0.88, 0.88),
               edgecolor=(0.42, 0.65, 0.87, 0.95), linewidth=1.1, zorder=3, clip_on=False)
    fig.text(tx / W, 1 - ty / H, title, ha="center", va="center", fontsize=27,
             fontweight=900, color="#7F7F7F")

fig.savefig("out.png", dpi=100, facecolor="white")
